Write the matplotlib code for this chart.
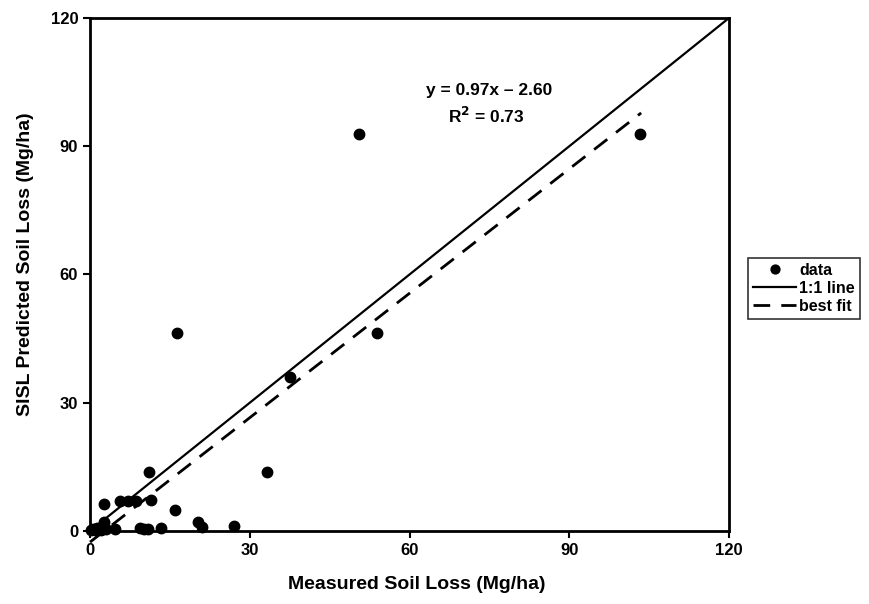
import matplotlib
matplotlib.use("Agg")
import matplotlib.pyplot as plt
import numpy as np

# measured vs predicted soil loss (Mg/ha)
measured = [0.2, 0.5, 1.0, 1.4, 2.0, 2.7, 3.0, 4.6, 2.7, 5.7, 7.1, 8.6, 11.4, 11.1,
            9.4, 10.2, 10.8, 13.3, 16.0, 20.2, 21.1, 27.1, 33.3, 37.6, 16.3, 53.8,
            50.5, 103.2]
predicted = [0.2, 0.5, 0.3, 0.8, 0.3, 2.2, 0.4, 0.4, 6.2, 6.9, 6.9, 6.9, 7.3, 13.9,
             0.8, 0.4, 0.4, 0.8, 4.8, 2.0, 0.9, 1.2, 13.9, 36.1, 46.3, 46.3,
             92.9, 92.9]
slope, intercept = 0.97, -2.60
fit_x = [0, 103.5]
ticks = [0, 30, 60, 90, 120]

plt.rcParams["font.family"] = ["Liberation Sans", "DejaVu Sans"]
plt.rcParams["font.weight"] = "bold"

fig = plt.figure(figsize=(8.69, 6.04), dpi=100)
ax = fig.add_axes([0.1036, 0.1209, 0.7353, 0.8493])

ax.plot(measured, predicted, "o", color="black", markersize=7.5, label="data",
        clip_on=False, zorder=3)
ax.plot([0, 120], [0, 120], "-", color="black", linewidth=1.6, label="1:1 line")
fx = np.array(fit_x)
ax.plot(fx, slope * fx + intercept, "--", color="black", linewidth=2.0,
        dashes=(6, 4), label="best fit", clip_on=False)

ax.text(75.0, 103.0, "y = 0.97x \u2013 2.60", ha="center", va="center",
        fontsize=12.5, fontweight="bold")
ax.text(74.5, 97.2, "R$^\\mathbf{2}$ = 0.73", ha="center", va="center",
        fontsize=12.5, fontweight="bold")

ax.set_xlim(0, 120)
ax.set_ylim(0, 120)
ax.set_xticks(ticks)
ax.set_yticks(ticks)
ax.tick_params(direction="out", length=5, width=1.5, labelsize=12)
for lab in ax.get_xticklabels() + ax.get_yticklabels():
    lab.set_fontweight("bold")
for sp in ax.spines.values():
    sp.set_linewidth(2)

ax.set_xlabel("Measured Soil Loss (Mg/ha)", fontsize=14, fontweight="bold")
ax.set_ylabel("SISL Predicted Soil Loss (Mg/ha)", fontsize=14, fontweight="bold")
ax.xaxis.set_label_coords(0.512, -0.088)
ax.yaxis.set_label_coords(-0.088, 0.52)

leg = fig.legend(loc="upper left", bbox_to_anchor=(0.861, 0.573),
                 frameon=True, fancybox=False, handlelength=2.7,
                 handletextpad=0.2, borderpad=0.3, labelspacing=0.2,
                 borderaxespad=0, markerscale=0.85,
                 prop={"weight": "bold", "size": 11.5})
leg.get_frame().set_edgecolor("black")
leg.get_frame().set_linewidth(1.2)

fig.savefig("out.png", dpi=100)
